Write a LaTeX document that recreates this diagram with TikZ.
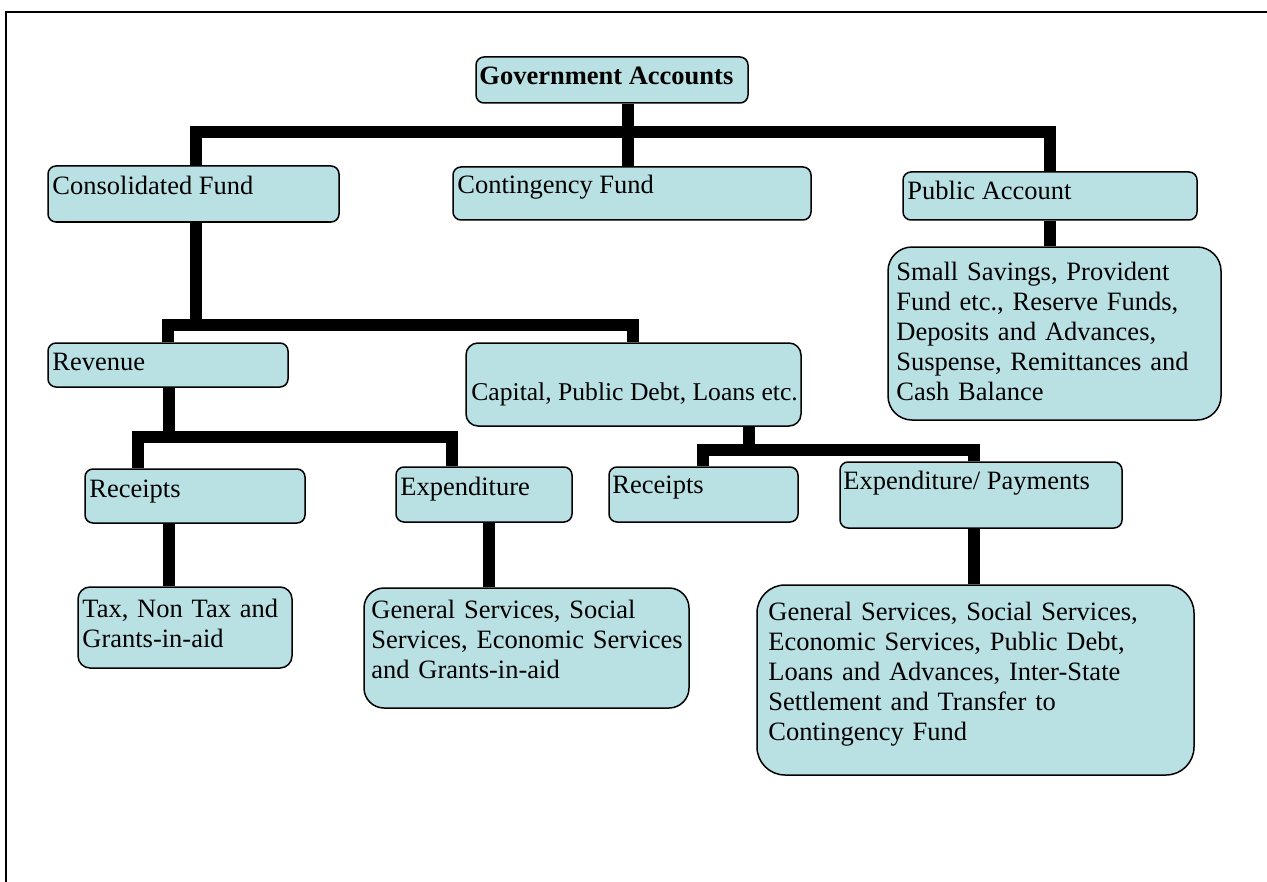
\documentclass[tikz,border=0pt]{standalone}
\usepackage{fontspec}
\setmainfont{Liberation Serif}
\usetikzlibrary{fit}
\definecolor{boxfill}{RGB}{185,224,227}
\begin{document}
\begin{tikzpicture}[x=0.5pt,y=-0.5pt,
  fund/.style={rectangle,draw,line width=0.75pt,fill=boxfill,rounded corners=#1,inner sep=0pt},
  fund/.default=4pt,
  txt/.style={anchor=base west,inner sep=0pt,font=\fontsize{13.25}{15}\selectfont},
  para/.style={txt,text width=200pt,align=left},
  link/.style={line width=5.75pt,line join=miter}]
\useasboundingbox (0,0) rectangle (1267,882);
\draw[line width=1pt] (1267,12)--(6,12)--(6,882);
% boxes
\node[fund,fit={(476,57)(748,103)}] (gov) {};
\node[fund,fit={(48,166)(339,222)}] (cons) {};
\node[fund,fit={(453,167)(811,220)}] (cont) {};
\node[fund,fit={(903,172)(1197,220)}] (pa) {};
\node[fund=12pt,fit={(888,247)(1221,420)}] (sub) {};
\node[fund,fit={(48,343)(288,387)}] (rev) {};
\node[fund=6pt,fit={(466,343)(801,426)}] (cap) {};
\node[fund,fit={(85,469)(305,523)}] (recl) {};
\node[fund,fit={(396,467)(572,522)}] (expl) {};
\node[fund,fit={(609,467)(798,522)}] (recr) {};
\node[fund,fit={(840,462)(1122,528)}] (expr) {};
\node[fund=6pt,fit={(78,587)(292,668)}] (tax) {};
\node[fund=10pt,fit={(364,588)(689,708)}] (gsl) {};
\node[fund=14pt,fit={(757,585)(1194,775)}] (gsr) {};
% texts
\node[txt,font=\fontsize{13.25}{15}\selectfont\bfseries] (gov-t) at (479,85) {Government Accounts};
\node[txt] (cons-t) at (52,195) {Consolidated Fund};
\node[txt] (cont-t) at (457,194) {Contingency Fund};
\node[txt] (pa-t) at (907,199) {Public Account};
\node[para] (sub-t) at (896,280) {Small Savings, Provident\\Fund etc., Reserve Funds,\\Deposits and Advances,\\Suspense, Remittances and\\Cash Balance};
\node[txt] (rev-t) at (52,370) {Revenue};
\node[txt,font=\fontsize{12.8}{15}\selectfont] (cap-t) at (471,400) {Capital, Public Debt, Loans etc.};
\node[txt] (recl-t) at (89,497) {Receipts};
\node[txt] (expl-t) at (400,495) {Expenditure};
\node[txt] (recr-t) at (612,493) {Receipts};
\node[txt] (expr-t) at (843,489) {Expenditure/ Payments};
\node[para] (tax-t) at (82,617) {Tax, Non Tax and\\Grants-in-aid};
\node[para] (gsl-t) at (371,618) {General Services, Social\\Services, Economic Services\\and Grants-in-aid};
\node[para] (gsr-t) at (768,620) {General Services, Social Services,\\Economic Services, Public Debt,\\Loans and Advances, Inter-State\\Settlement and Transfer to\\Contingency Fund};
% junctions
\coordinate (cg) at (628,132);
\coordinate (c1) at (196,132);
\coordinate (c2) at (1050,132);
\coordinate (d1) at (196,325);
\coordinate (d2) at (168,325);
\coordinate (d3) at (633,325);
\coordinate (e0) at (169,437);
\coordinate (e1) at (138,437);
\coordinate (e2) at (452,437);
\coordinate (f0) at (749,450);
\coordinate (f1) at (703,450);
\coordinate (f2) at (974,450);
\coordinate (h1) at (489,555);
% links
\draw[link] (gov.south -| cg) -- (cont.north -| cg);
\draw[link] (cons.north -| c1) -- (c1) -- (c2) -- (pa.north -| c2);
\draw[link] (cons.south -| d1) -- (d1);
\draw[link] (rev.north -| d2) -- (d2) -- (d3) -- (cap.north -| d3);
\draw[link] (rev.south -| e0) -- (e0);
\draw[link] (recl.north -| e1) -- (e1) -- (e2) -- (expl.north -| e2);
\draw[link] (cap.south -| f0) -- (f0);
\draw[link] (recr.north -| f1) -- (f1) -- (f2) -- (expr.north -| f2);
\draw[link] (recl.south -| e0) -- (tax.north -| e0);
\draw[link] (expl.south -| h1) -- (gsl.north -| h1);
\draw[link] (expr.south -| f2) -- (gsr.north -| f2);
\draw[link] (pa.south -| c2) -- (sub.north -| c2);
\end{tikzpicture}
\end{document}
